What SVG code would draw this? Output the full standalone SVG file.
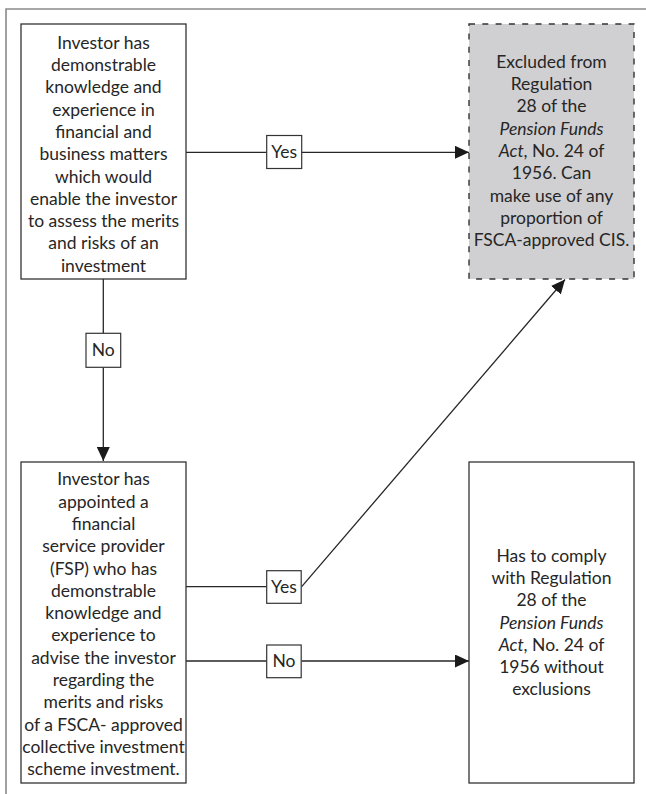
<svg xmlns="http://www.w3.org/2000/svg" width="646" height="794" viewBox="0 0 646 794">
<style>
.box{fill:#ffffff;stroke:#333333;stroke-width:1.3}
.gbox{fill:#d0d0d2;stroke:#333333;stroke-width:1.4;stroke-dasharray:6 7.3}
.lbl{fill:#ffffff;stroke:#333333;stroke-width:1.2}
.t{font-family:Lato,"Open Sans",sans-serif;font-size:17.5px;fill:#262626;text-anchor:middle}
.i{font-style:italic}
.c{fill:none;stroke:#262626;stroke-width:1.3}
.frame{fill:none;stroke:#8a8a8a;stroke-width:1.6}
</style>
<defs>
<marker id="ah" markerUnits="userSpaceOnUse" markerWidth="15" markerHeight="13" refX="14" refY="6.5" orient="auto">
<path d="M0,0 L14,6.5 L0,13 z" fill="#1a1a1a"/>
</marker>
</defs>
<rect width="646" height="794" fill="#ffffff"/>
<path class="frame" d="M6,794 L6,9 L646,9"/>

<g id="connectors">
<line class="c" x1="186" y1="152.3" x2="266.7" y2="152.3"/>
<line class="c" x1="301.7" y1="152.3" x2="469" y2="152.3" marker-end="url(#ah)"/>
<line class="c" x1="103.3" y1="279" x2="103.3" y2="333.3"/>
<line class="c" x1="103.3" y1="367.3" x2="103.3" y2="461" marker-end="url(#ah)"/>
<line class="c" x1="186" y1="586.7" x2="266.7" y2="586.7"/>
<line class="c" x1="301.7" y1="586.7" x2="565" y2="279.5" marker-end="url(#ah)"/>
<line class="c" x1="186" y1="661" x2="266.7" y2="661"/>
<line class="c" x1="301.7" y1="661" x2="469" y2="661" marker-end="url(#ah)"/>
<g id="label-yes-1"><rect class="lbl" x="266.7" y="135.5" width="35" height="33"/><text class="t" x="284.2" y="158.3">Yes</text></g>
<g id="label-no-1"><rect class="lbl" x="86" y="333.3" width="34.7" height="34"/><text class="t" x="103.3" y="356.3">No</text></g>
<g id="label-yes-2"><rect class="lbl" x="266.7" y="570.7" width="34.5" height="32.6"/><text class="t" x="284" y="593">Yes</text></g>
<g id="label-no-2"><rect class="lbl" x="266.7" y="645" width="34.5" height="32.7"/><text class="t" x="284" y="667.4">No</text></g>
</g>

<g id="node-investor-knowledge">
<rect class="box" x="21" y="24" width="165" height="255"/>
<text class="t" x="103.5" y="48.7">Investor has</text>
<text class="t" x="103.5" y="71">demonstrable</text>
<text class="t" x="103.5" y="93.3">knowledge and</text>
<text class="t" x="103.5" y="115.6">experience in</text>
<text class="t" x="103.5" y="137.9">financial and</text>
<text class="t" x="103.5" y="160.2">business matters</text>
<text class="t" x="103.5" y="182.5">which would</text>
<text class="t" x="103.5" y="204.8">enable the investor</text>
<text class="t" x="103.5" y="227.1">to assess the merits</text>
<text class="t" x="103.5" y="249.4">and risks of an</text>
<text class="t" x="103.5" y="271.7">investment</text>
</g>

<g id="node-excluded">
<rect class="gbox" x="469" y="24" width="165" height="255"/>
<text class="t" x="551.5" y="67.7">Excluded from</text>
<text class="t" x="551.5" y="90">Regulation</text>
<text class="t" x="551.5" y="112.3">28 of the</text>
<text class="t" x="551.5" y="134.6"><tspan class="i">Pension Funds</tspan></text>
<text class="t" x="551.5" y="156.9"><tspan class="i">Act</tspan>, No. 24 of</text>
<text class="t" x="551.5" y="179.2">1956. Can</text>
<text class="t" x="551.5" y="201.5">make use of any</text>
<text class="t" x="551.5" y="223.8">proportion of</text>
<text class="t" x="551.5" y="246.1">FSCA-approved CIS.</text>
</g>

<g id="node-investor-fsp">
<rect class="box" x="21" y="462" width="165" height="321"/>
<text class="t" x="103.5" y="485.3">Investor has</text>
<text class="t" x="103.5" y="507.6">appointed a</text>
<text class="t" x="103.5" y="529.9">financial</text>
<text class="t" x="103.5" y="552.2">service provider</text>
<text class="t" x="103.5" y="574.5">(FSP) who has</text>
<text class="t" x="103.5" y="596.8">demonstrable</text>
<text class="t" x="103.5" y="619.1">knowledge and</text>
<text class="t" x="103.5" y="641.4">experience to</text>
<text class="t" x="103.5" y="663.7">advise the investor</text>
<text class="t" x="103.5" y="686">regarding the</text>
<text class="t" x="103.5" y="708.3">merits and risks</text>
<text class="t" x="103.5" y="730.6">of a FSCA- approved</text>
<text class="t" x="103.5" y="752.9">collective investment</text>
<text class="t" x="103.5" y="775.2">scheme investment.</text>
</g>

<g id="node-comply">
<rect class="box" x="469" y="462" width="165" height="321"/>
<text class="t" x="551.5" y="561.6">Has to comply</text>
<text class="t" x="551.5" y="583.9">with Regulation</text>
<text class="t" x="551.5" y="606.2">28 of the</text>
<text class="t" x="551.5" y="628.5"><tspan class="i">Pension Funds</tspan></text>
<text class="t" x="551.5" y="650.8"><tspan class="i">Act</tspan>, No. 24 of</text>
<text class="t" x="551.5" y="673.1">1956 without</text>
<text class="t" x="551.5" y="695.4">exclusions</text>
</g>
</svg>
